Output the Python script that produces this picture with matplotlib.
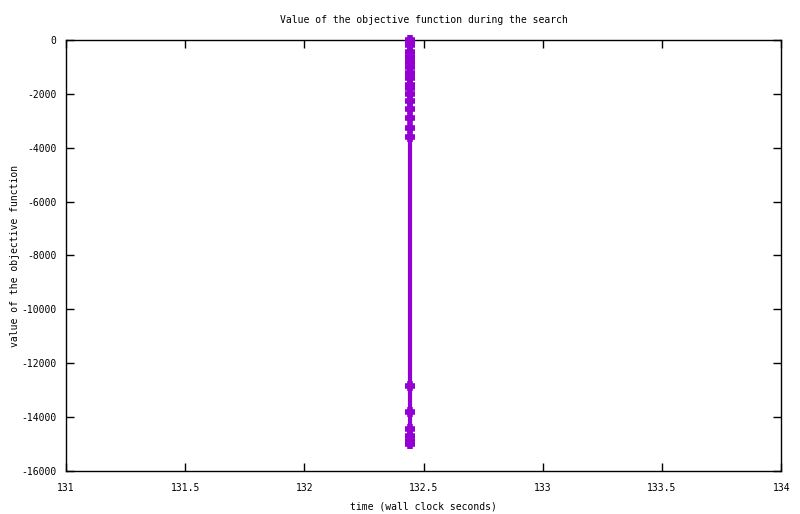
import numpy as np
import matplotlib.pyplot as plt

# objective value samples (all taken at roughly the same wall clock time)
times = [132.445] * 22
values = [0, -190, -450, -630, -820, -1000, -1230, -1410, -1670, -1800,
          -2020, -2260, -2560, -2900, -3250, -3590,
          -12850, -13800, -14450, -14700, -14900, -15000]

xticks = [131, 131.5, 132, 132.5, 133, 133.5, 134]
xticklabels = ["131", "131.5", "132", "132.5", "133", "133.5", "134"]
yticks = list(range(-16000, 1, 2000))

plt.rcParams['font.family'] = ['DejaVu Sans Mono']
plt.rcParams['font.size'] = 7
plt.rcParams['axes.unicode_minus'] = False

fig = plt.figure(figsize=(8, 5.14), dpi=100)
ax = fig.add_axes([0.0825, 0.0837, 0.894, 0.8385])

ax.plot(times, values, color='#9400D3', lw=3, marker='+', ms=7.5,
        markeredgewidth=4, solid_capstyle='butt', clip_on=False, zorder=3)

ax.set_xlim(131, 134)
ax.set_ylim(-16000, 0)
ax.set_xticks(xticks)
ax.set_xticklabels(xticklabels)
ax.set_yticks(yticks)
ax.tick_params(direction='in', top=True, right=True, length=6, width=1,
               pad=7, labelsize=7)
ax.tick_params(axis='x', pad=9)
for s in ax.spines.values():
    s.set_linewidth(1)

ax.set_title("Value of the objective function during the search", fontsize=7, pad=12)
ax.set_xlabel("time (wall clock seconds)", fontsize=7, labelpad=6)
ax.set_ylabel("value of the objective function", fontsize=7, labelpad=1)

fig.savefig("out.png", dpi=100)
